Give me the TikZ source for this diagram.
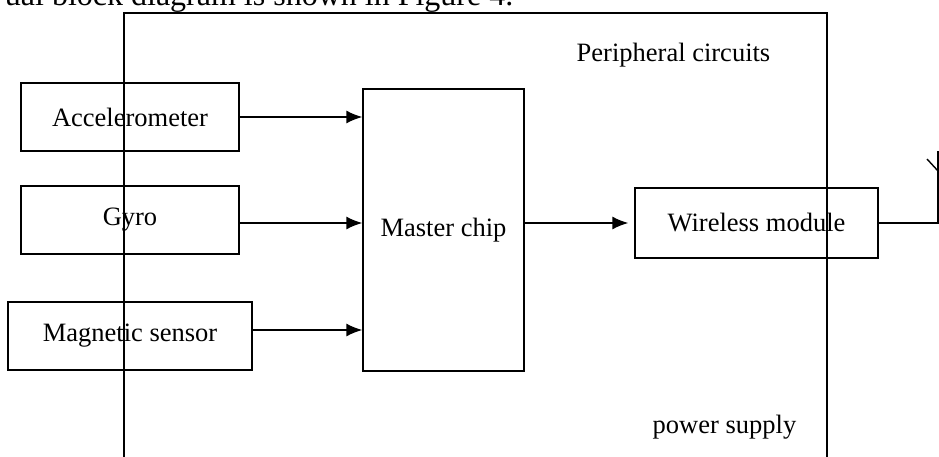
\documentclass[tikz,border=0pt]{standalone}
\usepackage{fontspec}
\setmainfont{Liberation Serif}
\usetikzlibrary{arrows.meta}
\begin{document}
\begin{tikzpicture}[x=1pt,y=-1pt,line width=1.4pt,
  blk/.style={draw,inner sep=0pt,font=\fontsize{26.5}{30}\selectfont},
  lbl/.style={inner sep=0pt,font=\fontsize{26.5}{30}\selectfont},
  arr/.style={-{Latex[length=16pt,width=13pt]}}]
\useasboundingbox (0,0) rectangle (939,457);
\begin{scope}
\clip (0,0) rectangle (939,457);
\node[inner sep=0pt,anchor=base east,font=\fontsize{32}{36}\selectfont] (toptext) at (514,6) {ual block diagram is shown in Figure 4.};
\coordinate (pbl) at (124,465);
\coordinate (ptl) at (124,13);
\coordinate (ptr) at (827,13);
\coordinate (pbr) at (827,465);
\draw (pbl) -- (ptl) -- (ptr) -- (pbr);
\node[lbl,anchor=base] (periph) at (673.5,62) {Peripheral circuits};
\node[lbl,anchor=base] (power) at (724.5,433) {power supply};
\node[blk,minimum width=218pt,minimum height=68pt] (acc) at (130,117) {Accelerometer};
\node[blk,minimum width=218pt,minimum height=68pt] (gyro) at (130,220) {Gyro};
\node[blk,minimum width=244pt,minimum height=68pt] (mag) at (130,336) {Magnetic sensor};
\node[blk,minimum width=161pt,minimum height=282pt] (master) at (443.5,230) {Master chip};
\node[blk,minimum width=243pt,minimum height=70pt] (wl) at (756.5,223) {Wireless module};
\draw[arr] (acc.east) -- (acc.east -| master.west);
\draw[arr] (gyro.east |- wl.center) -- (master.west |- wl.center);
\draw[arr] ([yshift=6pt]mag.east) -- ([yshift=6pt]mag.east -| master.west);
\draw[arr,shorten >=6pt] (master.east |- wl.center) -- (wl.west);
\coordinate (ant) at (938,223);
\coordinate (ajoint) at (938,171);
\coordinate (atop) at (938,151);
\coordinate (aarm) at (927,159);
\draw (wl.east) -- (ant) -- (atop);
\draw (ajoint) -- (aarm);
\end{scope}
\end{tikzpicture}
\end{document}
